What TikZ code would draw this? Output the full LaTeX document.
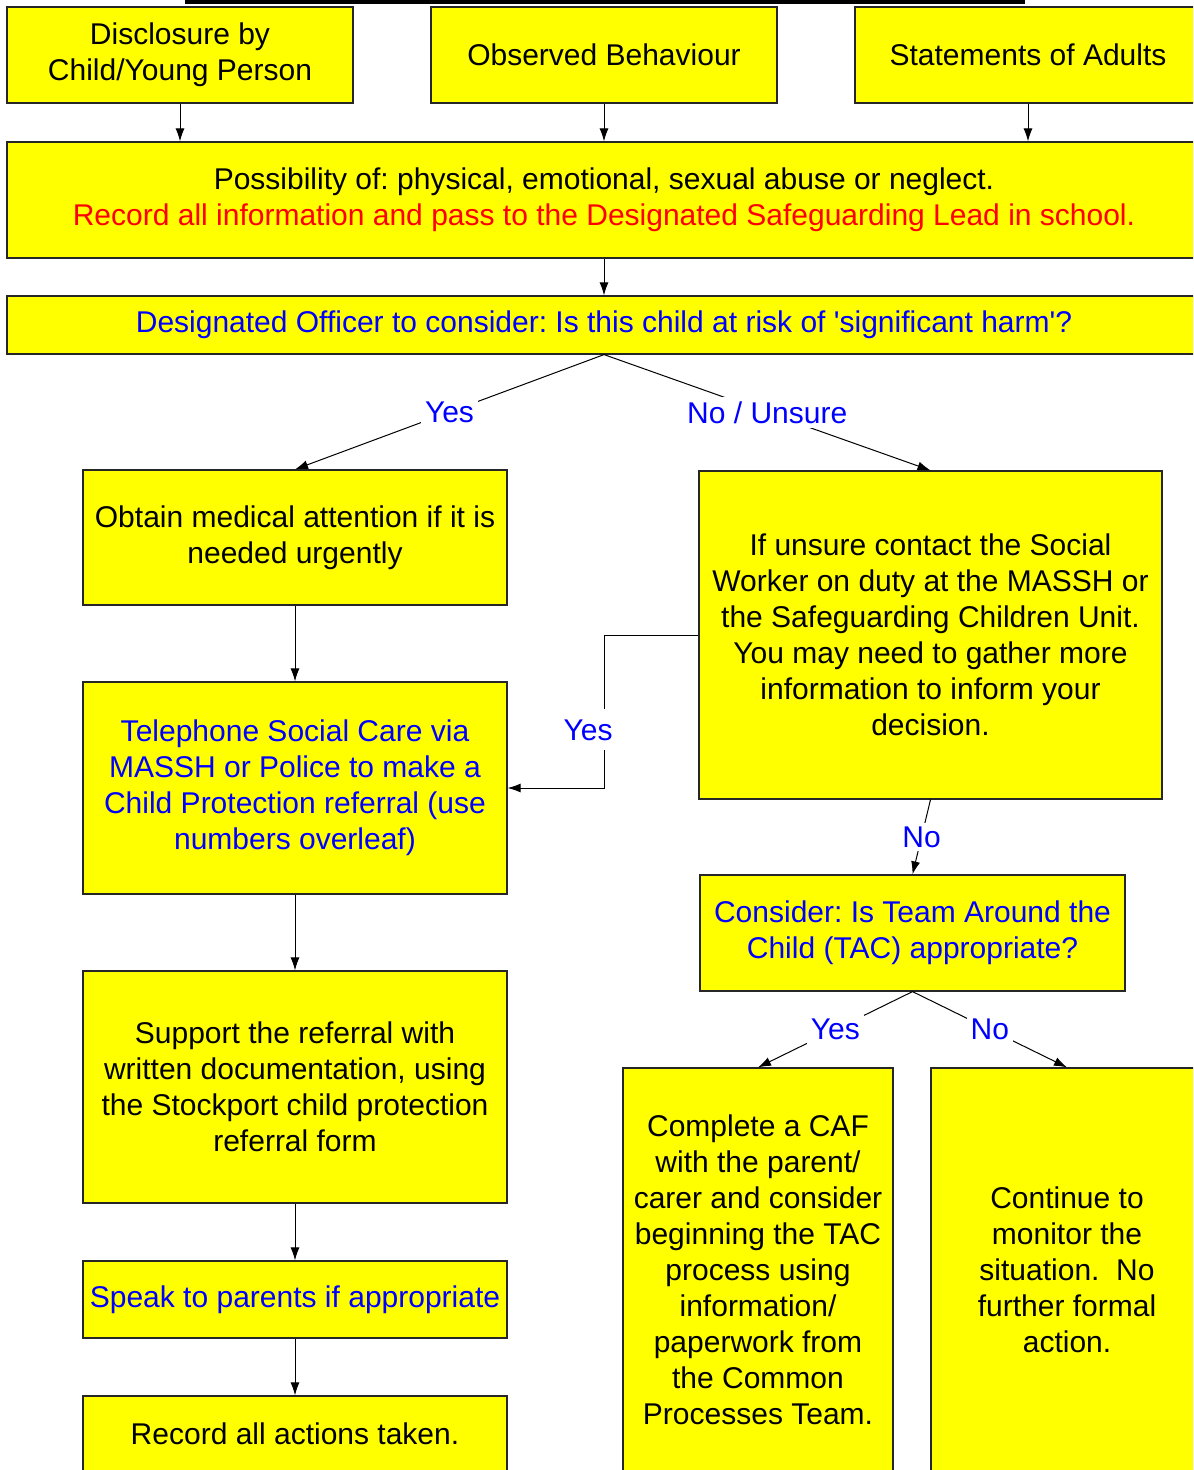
\documentclass[tikz,border=0pt]{standalone}
\usepackage{fontspec}
\setmainfont{Liberation Sans}
\usetikzlibrary{arrows.meta}
\definecolor{boxyellow}{RGB}{255,255,0}
\definecolor{askblue}{RGB}{0,0,255}
\definecolor{notered}{RGB}{255,0,0}
\frenchspacing

\begin{document}
\begin{tikzpicture}[x=0.5pt,y=-0.5pt]
  \tikzset{box/.style={draw=black!85,fill=boxyellow,line width=0.6pt,align=center,inner sep=0pt,font=\fontsize{15}{18}\selectfont},
           ans/.style={fill=white,text=askblue,inner sep=2pt,font=\fontsize{15}{18}\selectfont},
           arr/.style={-{Latex[length=6.5pt,width=4.5pt]},line width=0.5pt}}
  \useasboundingbox (0,0) rectangle (1193,1470);
  \clip (0,0) rectangle (1193,1470);
  \fill (185,0) rectangle (1025,4);
  \node[box,minimum width=173pt,minimum height=48pt] (disc) at (180,55) {Disclosure by\\Child/Young Person};
  \node[box,minimum width=173pt,minimum height=48pt] (obs) at (604,55) {Observed Behaviour};
  \node[box,minimum width=173pt,minimum height=48pt] (adults) at (1028,55) {Statements of Adults};
  \node[box,minimum width=597pt,minimum height=58pt] (poss) at (604,200) {Possibility of: physical, emotional, sexual abuse or neglect.\\\textcolor{notered}{Record all information and pass to the Designated Safeguarding Lead in school.}};
  \node[box,text=askblue,minimum width=597pt,minimum height=29pt] (desig) at (604,325) {Designated Officer to consider: Is this child at risk of \textquotesingle significant harm\textquotesingle?};
  \node[box,minimum width=212pt,minimum height=67.5pt] (obtain) at (295,537.5) {Obtain medical attention if it is\\needed urgently};
  \node[box,minimum width=231.5pt,minimum height=164pt] (unsure) at (930.5,635) {If unsure contact the Social\\Worker on duty at the MASSH or\\the Safeguarding Children Unit.\\You may need to gather more\\information to inform your\\decision.};
  \node[box,text=askblue,minimum width=212pt,minimum height=106pt] (phone) at (295,788) {Telephone Social Care via\\MASSH or Police to make a\\Child Protection referral (use\\numbers overleaf)};
  \node[box,minimum width=212pt,minimum height=116pt] (support) at (295,1087) {Support the referral with\\written documentation, using\\the Stockport child protection\\referral form};
  \node[box,text=askblue,minimum width=212pt,minimum height=38.5pt] (parents) at (295,1299.5) {Speak to parents if appropriate};
  \node[box,minimum width=212pt,minimum height=38pt] (record) at (295,1434) {Record all actions taken.};
  \node[box,text=askblue,minimum width=212.5pt,minimum height=58pt] (tac) at (912.5,933) {Consider: Is Team Around the\\Child (TAC) appropriate?};
  \node[box,minimum width=135pt,minimum height=202pt] (caf) at (758,1270) {Complete a CAF\\with the parent/\\carer and consider\\beginning the TAC\\process using\\information/\\paperwork from\\the Common\\Processes Team.};
  \node[box,minimum width=136pt,minimum height=202pt] (monitor) at (1067,1270) {Continue to\\monitor the\\situation.\ \ No\\further formal\\action.};
  \draw[arr] (disc) -- (disc |- poss.north);
  \draw[arr] (obs) -- (obs |- poss.north);
  \draw[arr] (adults) -- (adults |- poss.north);
  \draw[arr] (poss) -- (desig);
  \draw[arr] (desig.south) -- node[ans]{Yes} (obtain.north);
  \draw[arr] (desig.south) -- node[ans]{No / Unsure} (unsure.north);
  \draw[arr] (obtain) -- (phone);
  \draw[arr] (unsure.west) -- (desig.south |- unsure.west) |- node[ans,pos=0.31,xshift=-8pt,inner ysep=5pt]{Yes} (phone.east);
  \draw[arr] (phone) -- (support);
  \draw[arr] (support) -- (parents);
  \draw[arr] (parents) -- (record);
  \draw[arr] (unsure.south) -- node[ans]{No} (tac.north);
  \draw[arr] (tac.south) -- node[ans]{Yes} (caf.north);
  \draw[arr] (tac.south) -- node[ans]{No} (monitor.north);
\end{tikzpicture}
\end{document}
